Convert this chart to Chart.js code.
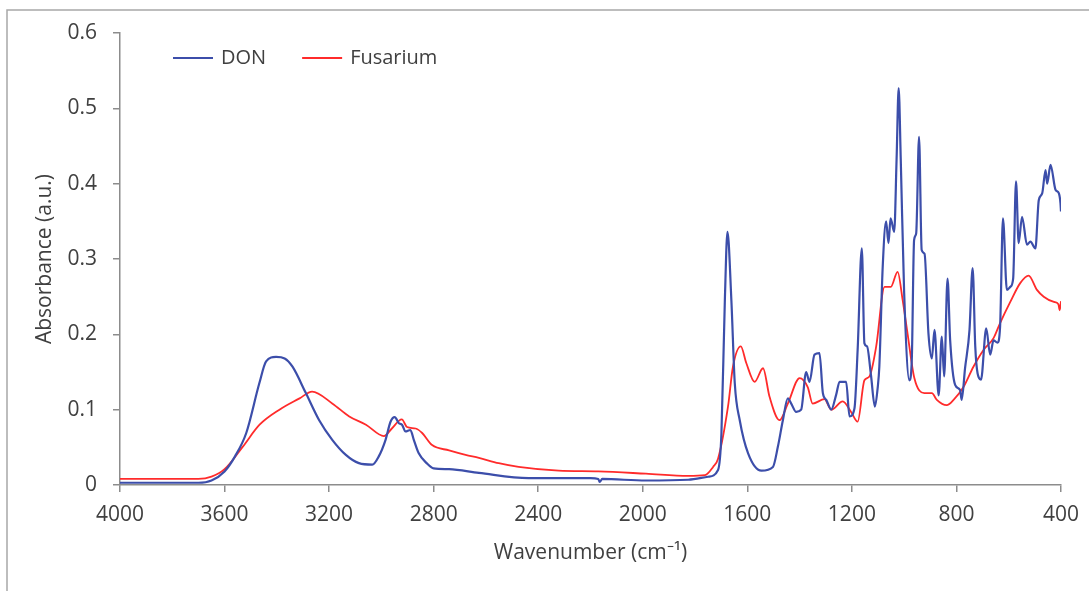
<!DOCTYPE html>
<html>
<head>
<meta charset="utf-8">
<script src="https://cdn.jsdelivr.net/npm/chart.js@4/dist/chart.umd.min.js"></script>
<style>
  html, body { margin: 0; padding: 0; background: #fff; }
  #wrap { position: relative; width: 1089px; height: 591px; }
</style>
</head>
<body>
<div id="wrap"><canvas id="ftir" width="1089" height="591"></canvas></div>
<script>
// wavenumber (cm-1) / absorbance
const donWavenumber = [4000, 3800, 3700, 3650, 3600, 3560, 3517, 3467, 3441, 3403, 3370, 3340, 3289, 3238, 3188, 3136, 3086, 3035, 3010, 2984, 2965, 2949, 2933, 2921, 2908, 2889, 2876, 2857, 2827, 2800, 2741, 2627, 2437, 2322, 2200, 2170, 2165, 2155, 1988, 1826, 1750, 1712, 1699, 1686, 1676, 1661, 1648, 1629, 1597, 1546, 1502, 1483, 1464, 1445, 1432, 1413, 1394, 1375, 1362, 1343, 1324, 1311, 1298, 1279, 1260, 1247, 1222, 1209, 1190, 1178, 1162, 1152, 1142, 1127, 1112, 1101, 1095, 1082, 1069, 1060, 1052, 1038, 1029, 1021, 1013, 1000, 980, 971, 962, 954, 943, 933, 922, 907, 894, 884, 868, 856, 847, 834, 824, 805, 786, 780, 767, 750, 738, 728, 719, 706, 686, 671, 658, 643, 633, 622, 607, 594, 583, 572, 562, 549, 530, 517, 498, 485, 472, 459, 453, 440, 421, 408, 402, 400];
const donAbsorbance = [0.003, 0.003, 0.003, 0.006, 0.018, 0.038, 0.069, 0.135, 0.164, 0.170, 0.168, 0.157, 0.122, 0.086, 0.060, 0.040, 0.029, 0.027, 0.038, 0.060, 0.084, 0.090, 0.082, 0.080, 0.071, 0.073, 0.060, 0.042, 0.029, 0.022, 0.021, 0.016, 0.009, 0.009, 0.009, 0.008, 0.004, 0.008, 0.006, 0.007, 0.011, 0.020, 0.069, 0.245, 0.336, 0.245, 0.135, 0.086, 0.042, 0.019, 0.024, 0.051, 0.086, 0.115, 0.108, 0.097, 0.100, 0.150, 0.137, 0.173, 0.175, 0.122, 0.113, 0.100, 0.120, 0.137, 0.137, 0.091, 0.102, 0.179, 0.314, 0.188, 0.184, 0.146, 0.104, 0.130, 0.157, 0.290, 0.350, 0.321, 0.354, 0.336, 0.432, 0.527, 0.432, 0.255, 0.139, 0.164, 0.325, 0.334, 0.462, 0.312, 0.307, 0.201, 0.168, 0.206, 0.119, 0.197, 0.144, 0.274, 0.192, 0.133, 0.126, 0.113, 0.155, 0.206, 0.288, 0.184, 0.148, 0.140, 0.208, 0.173, 0.192, 0.189, 0.210, 0.354, 0.259, 0.263, 0.274, 0.403, 0.321, 0.356, 0.319, 0.323, 0.314, 0.378, 0.387, 0.418, 0.400, 0.425, 0.392, 0.387, 0.374, 0.363];

const fusWavenumber = [4000, 3700, 3650, 3600, 3530, 3466, 3390, 3313, 3265, 3187, 3123, 3059, 2990, 2960, 2922, 2902, 2869, 2844, 2806, 2741, 2678, 2627, 2551, 2475, 2322, 2170, 1988, 1826, 1762, 1731, 1712, 1674, 1655, 1625, 1604, 1572, 1540, 1515, 1477, 1445, 1400, 1369, 1350, 1305, 1279, 1235, 1203, 1178, 1152, 1133, 1107, 1075, 1051, 1025, 1006, 987, 961, 923, 894, 875, 837, 811, 773, 735, 697, 658, 633, 594, 556, 524, 492, 466, 427, 410, 405, 400];
const fusAbsorbance = [0.008, 0.008, 0.011, 0.021, 0.051, 0.080, 0.100, 0.115, 0.124, 0.108, 0.091, 0.080, 0.065, 0.075, 0.087, 0.077, 0.075, 0.069, 0.053, 0.046, 0.040, 0.036, 0.029, 0.024, 0.019, 0.018, 0.015, 0.012, 0.013, 0.024, 0.035, 0.104, 0.157, 0.184, 0.162, 0.137, 0.155, 0.117, 0.086, 0.108, 0.142, 0.130, 0.108, 0.114, 0.100, 0.111, 0.097, 0.084, 0.139, 0.144, 0.184, 0.263, 0.263, 0.283, 0.246, 0.201, 0.142, 0.122, 0.122, 0.113, 0.106, 0.113, 0.130, 0.157, 0.179, 0.195, 0.215, 0.243, 0.268, 0.278, 0.259, 0.250, 0.243, 0.240, 0.232, 0.244];

const xTicks = [4000, 3600, 3200, 2800, 2400, 2000, 1600, 1200, 800, 400];

const axisGrey = '#8c8c8c';
const textGrey = '#404040';
const fontFamily = '"Open Sans", "Liberation Sans", sans-serif';

const toPoints = (xs, ys) => xs.map((x, i) => ({ x: x, y: ys[i] }));

// grey frame round the figure (top and left edges visible)
const framePlugin = {
  id: 'frame',
  beforeDraw(chart) {
    const ctx = chart.ctx;
    ctx.save();
    ctx.strokeStyle = '#a8a8a8';
    ctx.lineWidth = 1.5;
    ctx.strokeRect(7, 10, 1200, 700);
    ctx.restore();
  }
};

// legend drawn inside the plot area, top left
const innerLegend = {
  id: 'innerLegend',
  afterDraw(chart) {
    const ctx = chart.ctx;
    ctx.save();
    ctx.font = '20px ' + fontFamily;
    ctx.textBaseline = 'middle';
    let x = 173;
    const y = 58;
    chart.data.datasets.forEach(ds => {
      ctx.strokeStyle = ds.borderColor;
      ctx.lineWidth = 2;
      ctx.beginPath();
      ctx.moveTo(x, y);
      ctx.lineTo(x + 40, y);
      ctx.stroke();
      ctx.fillStyle = textGrey;
      ctx.fillText(ds.label, x + 48, y);
      x += 48 + ctx.measureText(ds.label).width + 36;
    });
    ctx.restore();
  }
};

new Chart(document.getElementById('ftir'), {
  type: 'line',
  data: {
    datasets: [
      {
        label: 'DON',
        data: toPoints(donWavenumber, donAbsorbance),
        borderColor: '#3c4eaa',
        borderWidth: 2.2,
        pointRadius: 0,
        cubicInterpolationMode: 'monotone',
      },
      {
        label: 'Fusarium',
        data: toPoints(fusWavenumber, fusAbsorbance),
        borderColor: '#ff2b2b',
        borderWidth: 1.8,
        pointRadius: 0,
        cubicInterpolationMode: 'monotone',
      },
    ],
  },
  options: {
    responsive: false,
    animation: false,
    layout: { padding: { left: 0, top: 33, right: 25, bottom: 0 } },
    plugins: {
      legend: { display: false },
      tooltip: { enabled: false },
    },
    scales: {
      x: {
        type: 'linear',
        reverse: true,
        min: 400,
        max: 4000,
        afterBuildTicks: scale => { scale.ticks = xTicks.map(v => ({ value: v })); },
        afterFit: scale => { scale.height = 106; },
        grid: { drawOnChartArea: false, drawTicks: true, tickLength: 7, color: axisGrey, lineWidth: 1.5 },
        border: { color: axisGrey, width: 1.5 },
        ticks: {
          color: textGrey,
          font: { family: fontFamily, size: 21 },
          padding: 10,
          maxRotation: 0,
          callback: v => String(v),
        },
        title: {
          display: true,
          text: 'Wavenumber (cm⁻¹)',
          color: textGrey,
          font: { family: fontFamily, size: 21 },
          padding: { top: 0, bottom: 25 },
        },
      },
      y: {
        min: 0,
        max: 0.6,
        afterFit: scale => { scale.width = 120; },
        grid: { drawOnChartArea: false, drawTicks: true, tickLength: 7, color: axisGrey, lineWidth: 1.5 },
        border: { color: axisGrey, width: 1.5 },
        ticks: {
          stepSize: 0.1,
          color: textGrey,
          font: { family: fontFamily, size: 21 },
          padding: 16,
          callback: v => (Math.round(v * 10) / 10).toString(),
        },
        title: {
          display: true,
          text: 'Absorbance (a.u.)',
          color: textGrey,
          font: { family: fontFamily, size: 21 },
          padding: { top: 32, bottom: 0 },
        },
      },
    },
  },
  plugins: [framePlugin, innerLegend],
});
</script>
</body>
</html>
